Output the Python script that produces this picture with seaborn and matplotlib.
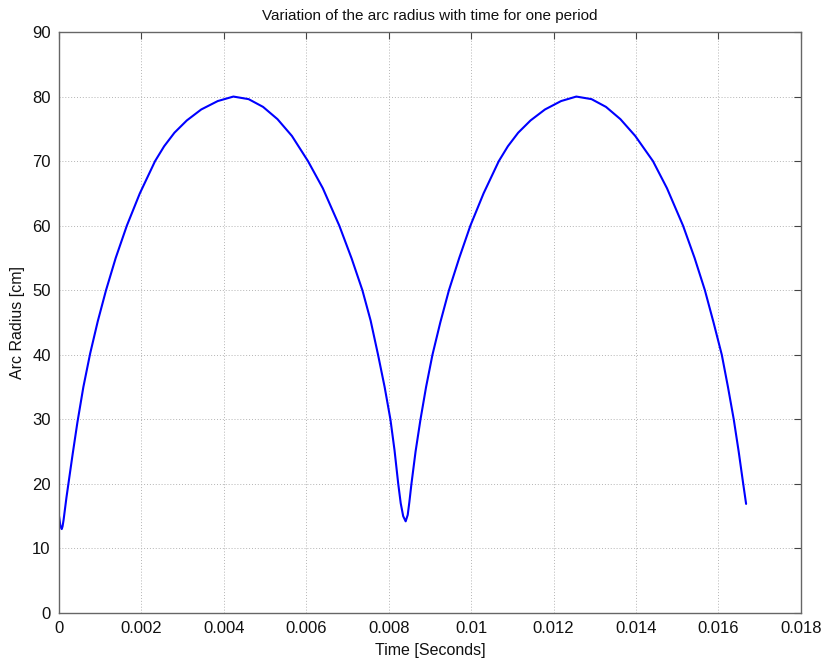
import matplotlib
matplotlib.use("Agg")
import matplotlib.pyplot as plt
import pandas as pd
import seaborn as sns

# Arc radius over one supply period: time in milliseconds, radius in cm
time_ms = [
    0.000, 0.030, 0.065, 0.085, 0.110, 0.140, 0.180, 0.227,
    0.330, 0.445, 0.590, 0.755, 0.940, 1.140, 1.375, 1.645,
    1.960, 2.330, 2.550, 2.800, 3.100, 3.450, 3.850, 4.230,
    4.600, 4.950, 5.300, 5.650, 6.040, 6.400, 6.800, 7.100,
    7.360, 7.560, 7.740, 7.900, 8.040, 8.140, 8.230, 8.290,
    8.350, 8.410, 8.460, 8.500, 8.550, 8.650, 8.770, 8.905,
    9.060, 9.250, 9.460, 9.710, 9.980, 10.300, 10.670, 10.890,
    11.140, 11.440, 11.790, 12.180, 12.550, 12.920, 13.270, 13.620,
    13.980, 14.410, 14.750, 15.140, 15.420, 15.670, 15.880, 16.080,
    16.230, 16.370, 16.490, 16.600, 16.670,
]
radius_cm = [
    15.0, 13.6, 13.0, 13.4, 14.4, 15.9, 17.9, 20.0,
    24.6, 29.5, 35.0, 40.2, 45.2, 50.0, 55.0, 60.0,
    65.0, 70.0, 72.3, 74.4, 76.3, 78.0, 79.3, 80.0,
    79.6, 78.4, 76.5, 73.9, 70.0, 65.8, 60.0, 54.9,
    50.0, 45.3, 40.0, 35.0, 30.0, 25.2, 20.0, 17.0,
    15.0, 14.2, 15.2, 17.2, 20.0, 25.0, 30.0, 35.0,
    40.0, 45.0, 50.0, 55.0, 60.0, 65.0, 70.0, 72.3,
    74.4, 76.3, 78.0, 79.3, 80.0, 79.6, 78.4, 76.5,
    73.9, 70.0, 65.8, 60.0, 55.0, 50.0, 45.0, 40.0,
    35.0, 30.0, 25.0, 20.0, 16.9,
]

x_ticks = [0, 0.002, 0.004, 0.006, 0.008, 0.01, 0.012, 0.014, 0.016, 0.018]
x_tick_labels = ["0", "0.002", "0.004", "0.006", "0.008", "0.01", "0.012",
                 "0.014", "0.016", "0.018"]
y_ticks = [0, 10, 20, 30, 40, 50, 60, 70, 80, 90]

sns.set_style("white")
plt.rcParams["font.family"] = ["Liberation Sans", "DejaVu Sans"]

df = pd.DataFrame({"Time": [t / 1000.0 for t in time_ms], "Radius": radius_cm})

fig = plt.figure(figsize=(8.28, 6.64), dpi=100)
ax = fig.add_axes([0.0713, 0.0768, 0.896, 0.875])

sns.lineplot(data=df, x="Time", y="Radius", ax=ax, color="#0000ff",
             linewidth=1.5, sort=False, estimator=None)

ax.set_xlim(0, 0.018)
ax.set_ylim(0, 90)
ax.set_xticks(x_ticks)
ax.set_xticklabels(x_tick_labels)
ax.set_yticks(y_ticks)
ax.set_yticklabels([str(v) for v in y_ticks])

ax.grid(True, linestyle=(0, (1, 2)), color="#b4b4b4", linewidth=0.7)
ax.tick_params(direction="in", length=5, width=0.8, colors="#444444",
               labelcolor="#111111", labelsize=12, top=True, right=True,
               pad=6)
for side in ax.spines.values():
    side.set_visible(True)
    side.set_color("#666666")
    side.set_linewidth(1.0)

ax.set_title("Variation of the arc radius with time for one period",
             fontsize=11, color="#111111", pad=9)
ax.set_xlabel("Time [Seconds]", fontsize=11.5, color="#111111", labelpad=5)
ax.set_ylabel("Arc Radius [cm]", fontsize=11.5, color="#111111", labelpad=5)

fig.savefig("out.png", dpi=100)
